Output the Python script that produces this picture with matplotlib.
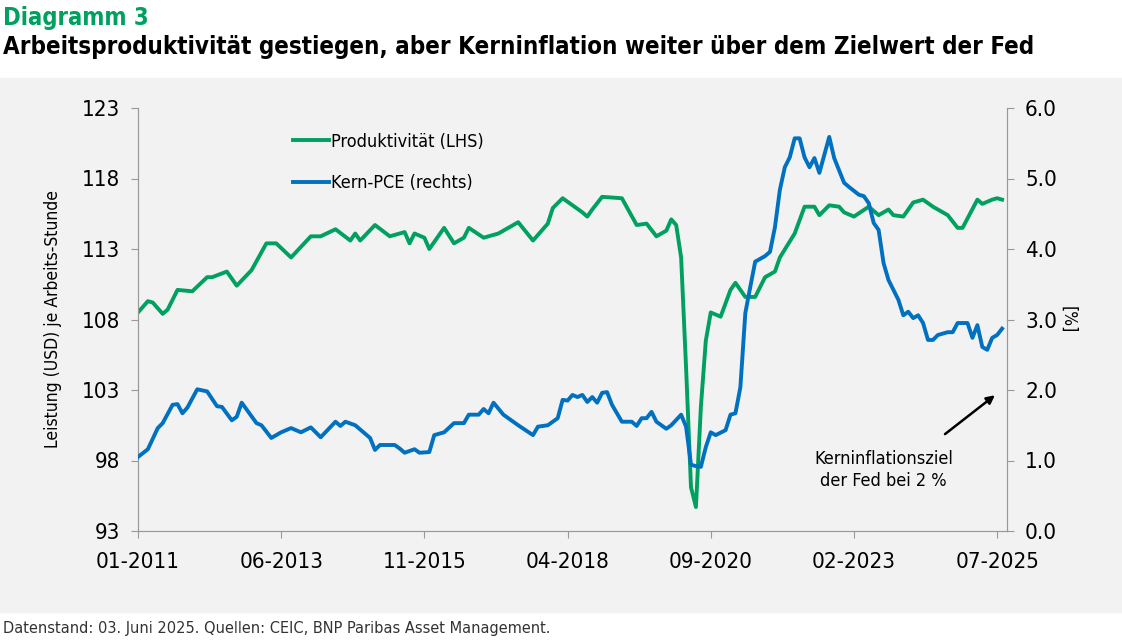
import matplotlib
matplotlib.use("Agg")
import matplotlib.pyplot as plt
from matplotlib.patches import Rectangle
from matplotlib.lines import Line2D

# months since Jan 2011
prod_m = [0,2,3,5,6,8,11,14,15,18,20,23,26,28,31,35,37,40,43,44,45,48,51,54,55,56,58,59,62,64,66,67,70,73,77,80,83,84,86,90,91,92,94,98,101,103,105,107,108,109,110,111,112,113,114,115,116,118,120,121,123,125,127,129,130,133,135,137,138,140,142,143,145,148,150,152,153,155,157,159,161,164,166,167,170,171,173,174,175]
prod_v = [108.5,109.3,109.2,108.4,108.7,110.1,110.0,111.0,111.0,111.4,110.4,111.5,113.4,113.4,112.4,113.9,113.9,114.4,113.6,114.1,113.6,114.7,113.9,114.2,113.4,114.1,113.8,113.0,114.5,113.4,113.8,114.5,113.8,114.1,114.9,113.6,114.8,115.9,116.6,115.6,115.3,115.8,116.7,116.6,114.7,114.8,113.9,114.3,115.1,114.7,112.4,104.6,96.1,94.7,101.8,106.5,108.5,108.2,110.1,110.6,109.6,109.6,111.0,111.4,112.4,114.1,116.0,116.0,115.4,116.1,116.0,115.6,115.3,116.0,115.4,115.8,115.4,115.3,116.3,116.5,116.0,115.4,114.5,114.5,116.5,116.2,116.5,116.6,116.5]
pce_m = [0,2,4,5,7,8,9,10,12,14,16,17,19,20,21,24,25,27,29,31,33,35,37,40,41,42,44,47,48,49,52,53,54,56,57,59,60,62,64,66,67,69,70,71,72,74,77,80,81,83,85,86,87,88,89,90,91,92,93,94,95,96,98,100,101,102,103,104,105,107,108,110,111,112,113,114,115,116,117,119,120,121,122,123,124,125,127,128,129,130,131,132,133,134,135,136,137,138,140,141,143,144,146,147,148,149,150,151,152,154,155,156,157,158,159,160,161,162,164,165,166,168,169,170,171,172,173,174,175]
pce_v = [1.05,1.16,1.46,1.53,1.79,1.80,1.67,1.75,2.01,1.98,1.77,1.76,1.57,1.62,1.82,1.53,1.50,1.32,1.40,1.46,1.40,1.47,1.33,1.55,1.49,1.55,1.50,1.32,1.15,1.22,1.22,1.17,1.11,1.16,1.11,1.12,1.36,1.40,1.53,1.53,1.65,1.65,1.73,1.67,1.82,1.65,1.50,1.36,1.48,1.50,1.60,1.86,1.85,1.93,1.90,1.93,1.83,1.90,1.82,1.96,1.97,1.79,1.55,1.55,1.49,1.60,1.60,1.69,1.55,1.45,1.50,1.65,1.48,0.94,0.92,0.91,1.19,1.40,1.36,1.43,1.65,1.67,2.04,3.09,3.46,3.82,3.90,3.96,4.31,4.84,5.16,5.30,5.57,5.57,5.30,5.16,5.29,5.08,5.59,5.29,4.94,4.88,4.77,4.75,4.65,4.37,4.27,3.80,3.56,3.28,3.06,3.11,3.02,3.06,2.95,2.71,2.71,2.78,2.82,2.82,2.95,2.95,2.74,2.92,2.61,2.57,2.74,2.78,2.87]
tick_m = [0,29,58,87,116,145,174]
tick_lab = ["01-2011","06-2013","11-2015","04-2018","09-2020","02-2023","07-2025"]

GREEN = "#00a061"; BLUE = "#0070c0"
plt.rcParams['font.family'] = ['DejaVu Sans']
plt.rcParams['font.stretch'] = 'condensed'

fig = plt.figure(figsize=(11.22, 6.4), dpi=100)
fig.patches.append(Rectangle((0, 1-612/640), 1, (612-78)/640, transform=fig.transFigure,
                             color="#f2f2f2", zorder=-10))
fig.text(0.003, 0.99, "Diagramm 3", color=GREEN, fontsize=17, fontweight="bold", va="top")
fig.text(0.003, 0.945, "Arbeitsproduktivität gestiegen, aber Kerninflation weiter über dem Zielwert der Fed",
         fontsize=17.3, fontweight="bold", va="top")
fig.text(0.003, 0.006, "Datenstand: 03. Juni 2025. Quellen: CEIC, BNP Paribas Asset Management.",
         fontsize=11.7, color="#333333", va="bottom")

ax = fig.add_axes([138/1122, 1-531/640, (1007-138)/1122, (531-108)/640])
ax.patch.set_alpha(0)
ax2 = ax.twinx()
ax.plot(prod_m, prod_v, color=GREEN, lw=2.8, zorder=3)
ax2.plot(pce_m, pce_v, color=BLUE, lw=2.8, zorder=3)
ax.set_xlim(0, 176)
ax.set_ylim(93, 123)
ax2.set_ylim(0, 6)
ax.set_yticks(range(93, 124, 5))
ax2.set_yticks(range(0, 7))
ax2.set_yticklabels([f"{v:.1f}" for v in range(0, 7)])
ax.set_xticks(tick_m)
ax.set_xticklabels(tick_lab)
for a in (ax, ax2):
    for s in a.spines.values():
        s.set_color("#999999")
    a.spines['top'].set_visible(False)
    a.tick_params(labelsize=16, color="#999999", length=5, direction="out")
ax.tick_params(axis="x", pad=10)
ax.tick_params(axis="y", pad=8)
ax2.tick_params(axis="y", pad=8)
ax.set_ylabel("Leistung (USD) je Arbeits-Stunde", fontsize=12.5, labelpad=14)
ax2.set_ylabel("[%]", fontsize=12.5, rotation=270, labelpad=14)

ax.legend([Line2D([], [], color=GREEN, lw=2.8), Line2D([], [], color=BLUE, lw=2.8)],
          ["Produktivität (LHS)", "Kern-PCE (rechts)"], loc="upper left",
          bbox_to_anchor=(0.16, 0.98), frameon=False, fontsize=13, handlelength=2.0,
          handletextpad=0.1, labelspacing=1.3)
ax2.annotate("", xy=(174, 1.95), xytext=(163, 1.35),
             arrowprops=dict(arrowstyle="-|>", color="black", lw=1.8, mutation_scale=12))
ax2.text(151, 1.15, "Kerninflationsziel\nder Fed bei 2 %", fontsize=13, ha="center", va="top",
         linespacing=1.3)
fig.savefig("out.png", dpi=100)
